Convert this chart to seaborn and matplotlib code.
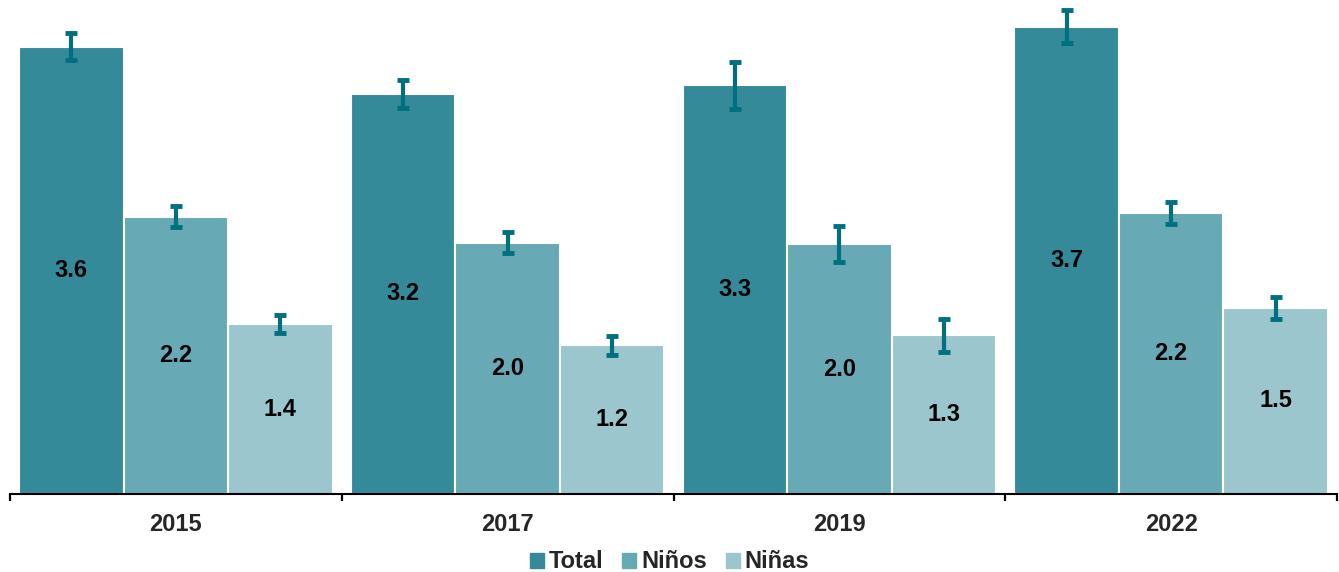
import matplotlib
matplotlib.use("Agg")
import matplotlib.pyplot as plt
import seaborn as sns
import pandas as pd

years = ["2015", "2017", "2019", "2022"]
groups = ["Total", "Niños", "Niñas"]
total = [3.58, 3.20, 3.27, 3.74]
ninos = [2.22, 2.01, 2.00, 2.25]
ninas = [1.36, 1.19, 1.27, 1.49]
err_total = [0.11, 0.115, 0.19, 0.13]
err_ninos = [0.085, 0.085, 0.145, 0.09]
err_ninas = [0.075, 0.075, 0.13, 0.09]

colors = ["#348a98", "#67a9b4", "#9cc6cd"]
err_color = "#006f80"

rows = []
for g, vals, errs in zip(groups, [total, ninos, ninas], [err_total, err_ninos, err_ninas]):
    for y, v, e in zip(years, vals, errs):
        rows.append({"year": y, "group": g, "value": v, "err": e})
df = pd.DataFrame(rows)

sns.set_style("white")
plt.rcParams["font.family"] = ["Liberation Sans", "DejaVu Sans"]
plt.rcParams["font.weight"] = "bold"

fig = plt.figure(figsize=(13.39, 5.72), dpi=100)
ax = fig.add_axes([10 / 1339, 78 / 572, 1327 / 1339, 494 / 572])

sns.barplot(data=df, x="year", y="value", hue="group", order=years, hue_order=groups,
            palette=colors, width=0.945, errorbar=None, saturation=1,
            edgecolor="white", linewidth=1.5, ax=ax, legend=True)

# error bars and value labels drawn on the seaborn bars
for g, container in zip(groups, ax.containers):
    sub = df[df["group"] == g].set_index("year").loc[years]
    xs = [p.get_x() + p.get_width() / 2 for p in container]
    ax.errorbar(xs, sub["value"], yerr=sub["err"], fmt="none", ecolor=err_color,
                elinewidth=3, capsize=4.5, capthick=3.5, zorder=5)
    ax.bar_label(container, labels=[f"{v:.1f}" for v in sub["value"]], label_type="center",
                 fontsize=17, fontweight="bold", color="black")

ax.set_xlim(-0.5, 3.5)
ax.set_ylim(0, 494 / 125)
ax.set_xlabel("")
ax.set_ylabel("")
ax.set_yticks([])
for s in ["top", "right", "left"]:
    ax.spines[s].set_visible(False)
ax.spines["bottom"].set_color("black")
ax.spines["bottom"].set_linewidth(1.5)

ax.set_xticks([-0.5, 0.5, 1.5, 2.5, 3.5], minor=True)
ax.tick_params(axis="x", which="major", length=0, pad=14, labelsize=17)
ax.tick_params(axis="x", which="minor", length=5, width=1.6, color="black", bottom=True)
for t in ax.get_xticklabels():
    t.set_fontweight("bold")

ax.get_legend().remove()
handles = [plt.Rectangle((0, 0), 1, 1, color=c) for c in colors]
fig.legend(handles, groups, loc="center", bbox_to_anchor=(0.5, 10 / 572), ncol=3,
           frameon=False, handlelength=0.6, handleheight=0.6, handletextpad=0.2,
           columnspacing=0.8, prop={"weight": "bold", "size": 17})

fig.savefig("out.png", dpi=100)
